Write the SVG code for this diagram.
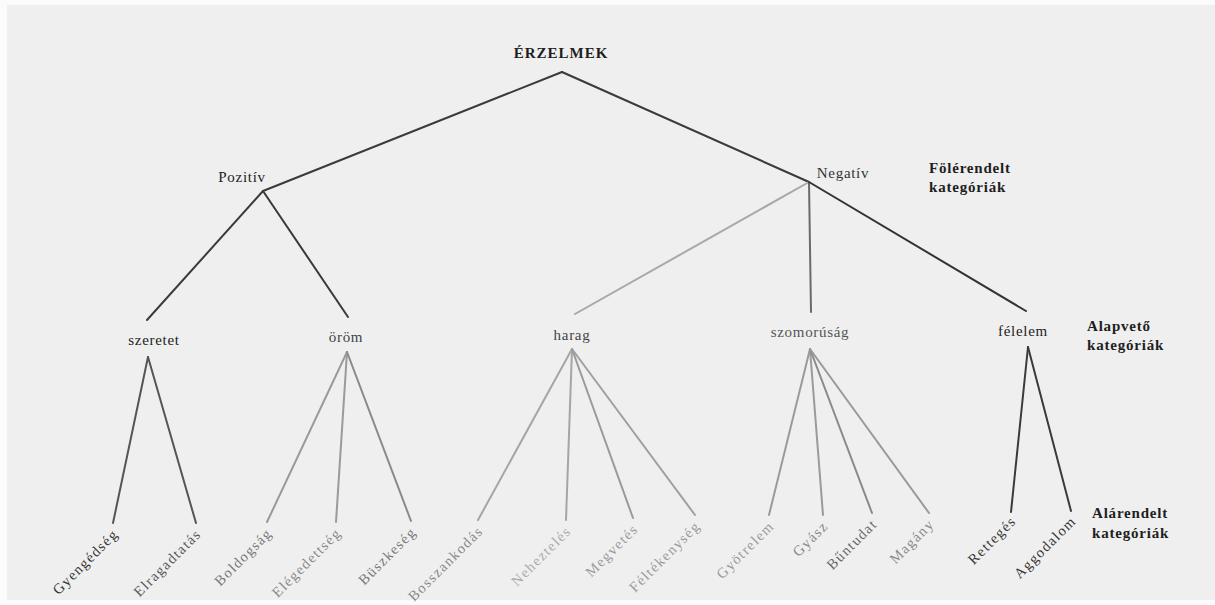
<svg xmlns="http://www.w3.org/2000/svg" width="1215" height="605" viewBox="0 0 1215 605">
<style>
text{font-family:"Liberation Serif","Times New Roman",serif;}
.top{font-size:15px;font-weight:bold;letter-spacing:1px;fill:#1e1e1e;}
.mid{font-size:15px;letter-spacing:0.7px;text-anchor:middle;}
.leaf{font-size:14.5px;letter-spacing:1.4px;text-anchor:end;}
.side{font-size:15px;font-weight:bold;letter-spacing:0.8px;fill:#1e1e1e;}
.c line{stroke-width:2;stroke-linecap:round;fill:none;}
</style>
<rect x="0" y="0" width="1215" height="605" fill="#fbfbfb"/>
<rect x="7" y="5" width="1208" height="595" fill="#efefef"/>
<g class="c" id="connectors">
<line x1="562" y1="72" x2="263" y2="191" stroke="#3a3a3a"/>
<line x1="562" y1="72" x2="809" y2="182" stroke="#3a3a3a"/>
<line x1="263" y1="191" x2="147" y2="320" stroke="#3a3a3a"/>
<line x1="263" y1="191" x2="348" y2="317" stroke="#3a3a3a"/>
<line x1="809" y1="182" x2="575" y2="314" stroke="#a8a8a8"/>
<line x1="809" y1="182" x2="811" y2="312" stroke="#6a6a6a"/>
<line x1="809" y1="182" x2="1026" y2="311" stroke="#333"/>
<line x1="148" y1="357" x2="113" y2="523" stroke="#555"/>
<line x1="148" y1="357" x2="196" y2="523" stroke="#555"/>
<line x1="347" y1="352" x2="267" y2="522" stroke="#9a9a9a"/>
<line x1="347" y1="352" x2="336" y2="522" stroke="#9a9a9a"/>
<line x1="347" y1="352" x2="411" y2="521" stroke="#8a8a8a"/>
<line x1="572" y1="349" x2="478" y2="520" stroke="#a5a5a5"/>
<line x1="572" y1="349" x2="566" y2="520" stroke="#a5a5a5"/>
<line x1="572" y1="349" x2="633" y2="518" stroke="#9a9a9a"/>
<line x1="572" y1="349" x2="695" y2="515" stroke="#a0a0a0"/>
<line x1="810" y1="349" x2="769" y2="515" stroke="#9a9a9a"/>
<line x1="810" y1="349" x2="823" y2="515" stroke="#9a9a9a"/>
<line x1="810" y1="349" x2="872" y2="513" stroke="#8a8a8a"/>
<line x1="810" y1="349" x2="929" y2="513" stroke="#9a9a9a"/>
<line x1="1028" y1="347" x2="1011" y2="512" stroke="#3a3a3a"/>
<line x1="1028" y1="347" x2="1071" y2="511" stroke="#3a3a3a"/>
</g>
<g id="erzelmek"><text class="top" x="561" y="58" text-anchor="middle">ÉRZELMEK</text></g>
<g id="pozitiv"><text class="mid" x="242" y="182" fill="#222">Pozitív</text></g>
<g id="negativ"><text class="mid" x="843" y="178" fill="#333">Negatív</text></g>
<g id="szeretet"><text class="mid" x="154" y="345" fill="#222">szeretet</text></g>
<g id="orom"><text class="mid" x="346" y="342" fill="#444">öröm</text></g>
<g id="harag"><text class="mid" x="572" y="340" fill="#444">harag</text></g>
<g id="szomorusag"><text class="mid" x="810" y="337" fill="#555">szomorúság</text></g>
<g id="felelem"><text class="mid" x="1023" y="336" fill="#222">félelem</text></g>
<g id="gyengedseg"><text class="leaf" transform="translate(119,535) rotate(-45)" fill="#333">Gyengédség</text></g>
<g id="elragadtatas"><text class="leaf" transform="translate(202,535) rotate(-45)" fill="#555">Elragadtatás</text></g>
<g id="boldogsag"><text class="leaf" transform="translate(273,534) rotate(-45)" fill="#777">Boldogság</text></g>
<g id="elegedettseg"><text class="leaf" transform="translate(342,534) rotate(-45)" fill="#888">Elégedettség</text></g>
<g id="buszkeseg"><text class="leaf" transform="translate(417,533) rotate(-45)" fill="#777">Büszkeség</text></g>
<g id="bosszankodas"><text class="leaf" transform="translate(484,532) rotate(-45)" fill="#888">Bosszankodás</text></g>
<g id="nehezteles"><text class="leaf" transform="translate(572,532) rotate(-45)" fill="#aaa">Neheztelés</text></g>
<g id="megvetes"><text class="leaf" transform="translate(639,530) rotate(-45)" fill="#999">Megvetés</text></g>
<g id="feltekenyseg"><text class="leaf" transform="translate(701,527) rotate(-45)" fill="#999">Féltékenység</text></g>
<g id="gyotrelem"><text class="leaf" transform="translate(775,527) rotate(-45)" fill="#999">Gyötrelem</text></g>
<g id="gyasz"><text class="leaf" transform="translate(829,527) rotate(-45)" fill="#888">Gyász</text></g>
<g id="buntudat"><text class="leaf" transform="translate(878,525) rotate(-45)" fill="#666">Bűntudat</text></g>
<g id="magany"><text class="leaf" transform="translate(935,525) rotate(-45)" fill="#888">Magány</text></g>
<g id="rettegés"><text class="leaf" transform="translate(1017,522) rotate(-45)" fill="#333">Rettegés</text></g>
<g id="aggodalom"><text class="leaf" transform="translate(1077,522) rotate(-45)" fill="#333">Aggodalom</text></g>
<g id="folerendelt"><text class="side" x="929" y="173">Fölérendelt</text><text class="side" x="929" y="192">kategóriák</text></g>
<g id="alapveto"><text class="side" x="1087" y="331">Alapvető</text><text class="side" x="1087" y="350">kategóriák</text></g>
<g id="alarendelt"><text class="side" x="1092" y="518">Alárendelt</text><text class="side" x="1092" y="538">kategóriák</text></g>
</svg>
